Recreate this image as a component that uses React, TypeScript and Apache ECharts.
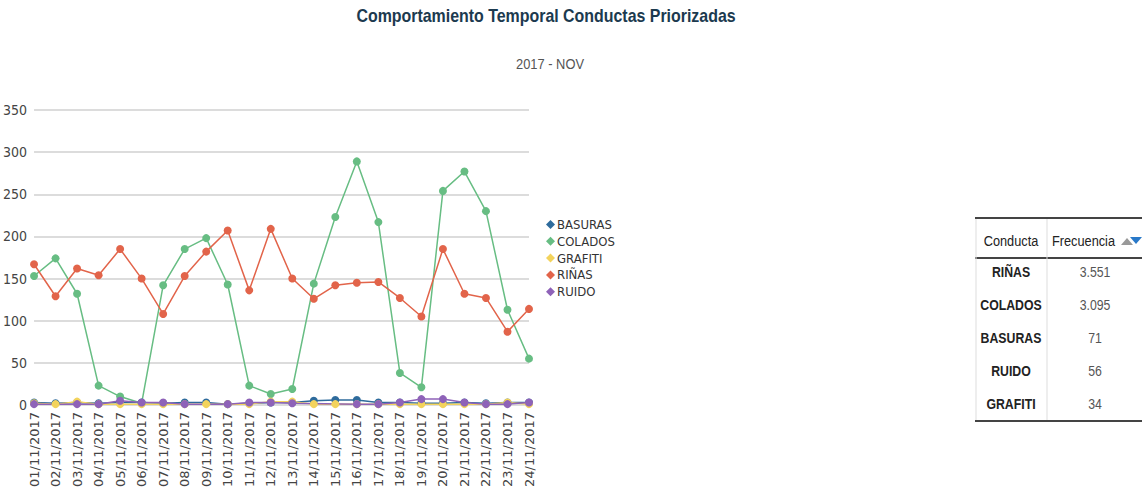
import React, { useEffect, useRef } from "react";
import * as echarts from "echarts";

const categories = [
  "01/11/2017", "02/11/2017", "03/11/2017", "04/11/2017", "05/11/2017", "06/11/2017",
  "07/11/2017", "08/11/2017", "09/11/2017", "10/11/2017", "11/11/2017", "12/11/2017",
  "13/11/2017", "14/11/2017", "15/11/2017", "16/11/2017", "17/11/2017", "18/11/2017",
  "19/11/2017", "20/11/2017", "21/11/2017", "22/11/2017", "23/11/2017", "24/11/2017",
];

const basuras = [3, 2, 3, 2, 3, 3, 2, 3, 3, 1, 2, 3, 3, 5, 6, 6, 3, 3, 2, 2, 3, 2, 3, 3];
const colados = [153, 174, 132, 23, 10, 2, 142, 185, 198, 143, 23, 13, 19, 144, 223, 289, 217, 38, 21, 254, 277, 230, 113, 55];
const grafiti = [2, 1, 4, 1, 1, 1, 1, 1, 1, 1, 1, 4, 4, 1, 1, 1, 1, 1, 1, 1, 1, 1, 3, 1];
const rinas = [167, 129, 162, 154, 185, 150, 108, 153, 182, 207, 136, 209, 150, 126, 142, 145, 146, 127, 105, 185, 132, 127, 87, 114];
const ruido = [1, null, 1, 1, 5, 3, 3, 1, null, 1, 3, 3, 2, null, null, 1, 1, 3, 7, 7, 3, 1, 1, 3];

const seriesNames = ["BASURAS", "COLADOS", "GRAFITI", "RIÑAS", "RUIDO"];
const seriesColors = ["#2e6b9c", "#67bd83", "#f3d35c", "#e2644a", "#8e62b8"];

const tableConductas = ["RIÑAS", "COLADOS", "BASURAS", "RUIDO", "GRAFITI"];
const tableFrecuencias = ["3.551", "3.095", "71", "56", "34"];

const TITLE = "Comportamiento Temporal Conductas Priorizadas";
const SUBTITLE = "2017 - NOV";

const FONT = "'DejaVu Sans Condensed', 'Liberation Sans', sans-serif";
const ARIAL = "'Liberation Sans', Arial, sans-serif";

export default function App() {
  const ref = useRef<HTMLDivElement>(null);

  useEffect(() => {
    if (!ref.current) return;
    const chart = echarts.init(ref.current, undefined, { renderer: "svg" });
    const data = [basuras, colados, grafiti, rinas, ruido];

    const rowY0 = 272;
    const rowGap = 33;
    const graphics: any[] = [
      {
        type: "text", x: 546, y: 16, scaleX: 0.885,
        style: { text: TITLE, fontFamily: ARIAL, fontSize: 18, fontWeight: "bold", fill: "#1c3a4f", align: "center", verticalAlign: "middle" },
      },
      {
        type: "text", x: 550, y: 64, scaleX: 0.86,
        style: { text: SUBTITLE, fontFamily: ARIAL, fontSize: 15, fill: "#555", align: "center", verticalAlign: "middle" },
      },
      { type: "line", shape: { x1: 975, y1: 218, x2: 1142, y2: 218 }, style: { stroke: "#444", lineWidth: 2 } },
      { type: "line", shape: { x1: 975, y1: 258, x2: 1142, y2: 258 }, style: { stroke: "#444", lineWidth: 2 } },
      { type: "line", shape: { x1: 975, y1: 421, x2: 1142, y2: 421 }, style: { stroke: "#444", lineWidth: 2 } },
      { type: "line", shape: { x1: 976, y1: 219, x2: 976, y2: 420 }, style: { stroke: "#ddd", lineWidth: 1 } },
      { type: "line", shape: { x1: 1047, y1: 219, x2: 1047, y2: 420 }, style: { stroke: "#ddd", lineWidth: 1 } },
      { type: "text", x: 1011, y: 241, scaleX: 0.85, style: { text: "Conducta", fontFamily: ARIAL, fontSize: 15, fill: "#222", align: "center", verticalAlign: "middle" } },
      { type: "text", x: 1052, y: 241, scaleX: 0.85, style: { text: "Frecuencia", fontFamily: ARIAL, fontSize: 15, fill: "#222", align: "left", verticalAlign: "middle" } },
      { type: "polygon", shape: { points: [[1121, 245], [1127, 238], [1133, 245]] }, style: { fill: "#999" } },
      { type: "polygon", shape: { points: [[1130, 237], [1142, 237], [1136, 244]] }, style: { fill: "#2979c9" } },
    ];
    tableConductas.forEach((c, i) => {
      graphics.push({
        type: "text", x: 1011, y: rowY0 + i * rowGap, scaleX: 0.82,
        style: { text: c, fontFamily: ARIAL, fontSize: 15, fontWeight: "bold", fill: "#222", align: "center", verticalAlign: "middle" },
      });
      graphics.push({
        type: "text", x: 1095, y: rowY0 + i * rowGap, scaleX: 0.82,
        style: { text: tableFrecuencias[i], fontFamily: ARIAL, fontSize: 15, fill: "#555", align: "center", verticalAlign: "middle" },
      });
    });

    chart.setOption({
      animation: false,
      backgroundColor: "#fff",
      textStyle: { fontFamily: FONT },
      legend: {
        orient: "vertical",
        left: 541,
        top: 213,
        icon: "diamond",
        itemWidth: 9,
        itemHeight: 9,
        itemGap: 3.8,
        data: seriesNames,
        textStyle: { fontFamily: FONT, fontSize: 13, color: "#333", padding: [0, 0, 0, -3] },
      },
      grid: { left: 32, right: 613, top: 110, bottom: 91, containLabel: false },
      xAxis: {
        type: "category",
        data: categories,
        boundaryGap: false,
        axisLine: { show: false },
        axisTick: { show: false },
        axisLabel: { rotate: 90, interval: 0, fontFamily: "'DejaVu Sans', sans-serif", fontSize: 13, color: "#444", margin: 7 },
        splitLine: { show: false },
      },
      yAxis: {
        type: "value",
        min: 0,
        max: 350,
        interval: 50,
        axisLine: { show: false },
        axisTick: { show: false },
        axisLabel: { fontFamily: FONT, fontSize: 14, color: "#444", margin: 7 },
        splitLine: { lineStyle: { color: "#d0d0d0", width: 1.5 } },
      },
      series: seriesNames.map((name, i) => ({
        name,
        type: "line",
        data: data[i],
        connectNulls: true,
        symbol: "circle",
        symbolSize: 8,
        color: seriesColors[i],
        lineStyle: { width: 1.5, color: seriesColors[i] },
        itemStyle: { color: seriesColors[i] },
      })),
      graphic: graphics,
    });

    return () => chart.dispose();
  }, []);

  return (
    <div
      ref={ref}
      style={{ position: "fixed", left: 0, top: 0, width: 1142, height: 496 }}
    />
  );
}
